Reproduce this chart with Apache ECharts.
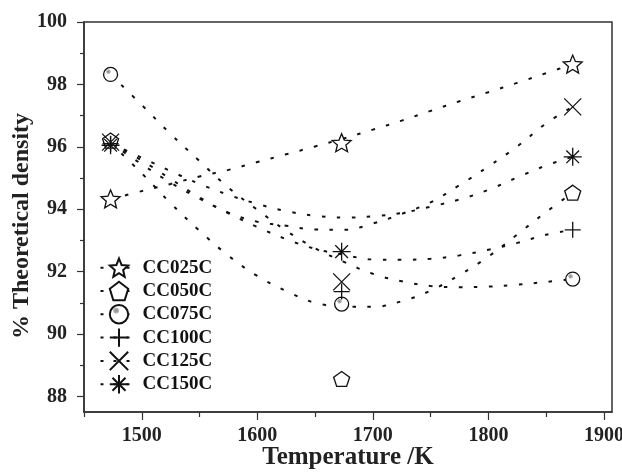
<!DOCTYPE html>
<html><head><meta charset="utf-8">
<script src="https://cdn.jsdelivr.net/npm/echarts@6/dist/echarts.min.js"></script>
<style>html,body{margin:0;padding:0;background:#fff}#c{width:622px;height:475px}</style>
</head><body><div id="c"></div>
<script>
// Measured points (sintering temperature in K, % theoretical density)
const temperatures = [1473, 1673, 1873];
const cc025c = [94.33, 96.13, 98.65];
const cc050c = [96.2, 88.56, 94.53];
const cc075c = [98.32, 90.96, 91.76];
const cc100c = [96.1, 91.36, 93.34];
const cc125c = [96.15, 91.67, 97.28];
const cc150c = [96.05, 92.64, 95.68];

// Dotted trend curves
const fitTemperatures = [1473, 1500, 1525, 1550, 1575, 1600, 1625, 1650, 1675, 1700, 1725, 1750, 1775, 1800, 1825, 1850, 1873];
const fit025c = [94.32, 94.58, 94.81, 95.05, 95.26, 95.51, 95.76, 96.01, 96.27, 96.55, 96.84, 97.15, 97.46, 97.75, 98.05, 98.36, 98.65];
const fit050c = [96.12, 95.15, 94.19, 93.31, 92.51, 91.86, 91.38, 91.00, 90.88, 90.87, 91.05, 91.39, 91.89, 92.48, 93.19, 93.91, 94.53];
const fit075c = [98.32, 97.34, 96.41, 95.54, 94.69, 93.98, 93.31, 92.75, 92.31, 91.93, 91.69, 91.54, 91.50, 91.52, 91.58, 91.67, 91.76];
const fit100c = [96.12, 95.44, 94.85, 94.34, 93.87, 93.43, 93.04, 92.73, 92.54, 92.39, 92.38, 92.41, 92.52, 92.70, 92.92, 93.18, 93.34];
const fit125c = [96.12, 95.56, 94.97, 94.38, 93.89, 93.60, 93.47, 93.35, 93.34, 93.54, 93.85, 94.22, 94.77, 95.37, 96.01, 96.75, 97.28];
const fit150c = [96.12, 95.65, 95.22, 94.81, 94.46, 94.17, 93.94, 93.79, 93.73, 93.77, 93.88, 94.08, 94.31, 94.62, 95.02, 95.40, 95.68];

const seriesNames = ['CC025C', 'CC050C', 'CC075C', 'CC100C', 'CC125C', 'CC150C'];
const xMajorTicks = [1500, 1600, 1700, 1800, 1900];
const xMinorTicks = [1450, 1550, 1650, 1750, 1850];
const yMajorTicks = [88, 90, 92, 94, 96, 98, 100];
const yMinorTicks = [89, 91, 93, 95, 97, 99];

const FONT = '"Liberation Serif", "Times New Roman", serif';
const INK = '#111';
const AXIS = '#333';

const symbols = {
  star: 'path://M10,0L12.645,6.36L19.511,6.91L14.28,11.39L15.878,18.09L10,14.5L4.122,18.09L5.72,11.39L0.489,6.91L7.355,6.36Z',
  pentagon: 'path://M10,0L19.511,6.91L15.878,18.09L4.122,18.09L0.489,6.91Z',
  plus: 'path://M0,10L20,10M10,0L10,20',
  cross: 'path://M0,0L20,20M20,0L0,20',
  asterisk: 'path://M10,0L10,20M0,10L20,10M2.93,2.93L17.07,17.07M17.07,2.93L2.93,17.07'
};
const circleFill = {
  type: 'radial', x: 0.36, y: 0.32, r: 0.5,
  colorStops: [
    { offset: 0, color: '#8a8a8a' },
    { offset: 0.25, color: '#b5b5b5' },
    { offset: 0.33, color: '#ffffff' },
    { offset: 1, color: '#ffffff' }
  ]
};

const markerDefs = [
  { values: cc025c, symbol: symbols.star, size: [19, 18], fill: '#fff' },
  { values: cc050c, symbol: symbols.pentagon, size: [16, 15], fill: '#fff' },
  { values: cc075c, symbol: 'circle', size: 14, fill: circleFill },
  { values: cc100c, symbol: symbols.plus, size: 16, fill: '#fff' },
  { values: cc125c, symbol: symbols.cross, size: 17, fill: '#fff' },
  { values: cc150c, symbol: symbols.asterisk, size: 18, fill: '#fff' }
];
const fits = [fit025c, fit050c, fit075c, fit100c, fit125c, fit150c];

const series = [];
fits.forEach((f, i) => {
  series.push({
    name: seriesNames[i] + ' trend',
    type: 'line',
    data: fitTemperatures.map((t, k) => [t, f[k]]),
    smooth: 0.4,
    symbol: 'none',
    silent: true,
    z: 2,
    lineStyle: { color: INK, width: 2, type: [3.5, 11.5] }
  });
});
markerDefs.forEach((m, i) => {
  series.push({
    name: seriesNames[i],
    type: 'line',
    data: temperatures.map((t, k) => [t, m.values[k]]),
    symbol: m.symbol,
    symbolSize: m.size,
    showSymbol: true,
    z: 5,
    lineStyle: { opacity: 0, width: 0 },
    itemStyle: { color: m.fill, borderColor: INK, borderWidth: 1.3 }
  });
});

const plain = v => String(v);
const labelStyle = { fontFamily: FONT, fontWeight: 'bold', fontSize: 20, color: '#222', formatter: plain };
const nameStyle = { fontFamily: FONT, fontWeight: 'bold', color: '#222' };

const chart = echarts.init(document.getElementById('c'), null, { renderer: 'canvas' });
chart.setOption({
  animation: false,
  backgroundColor: '#fff',
  grid: {
    left: 84, right: 10, top: 22, bottom: 63, containLabel: false, outerBoundsMode: 'none',
    show: true, borderColor: AXIS, borderWidth: 1.5, backgroundColor: 'transparent'
  },
  legend: {
    data: seriesNames,
    orient: 'vertical',
    left: 99.5,
    top: 257.5,
    padding: 0,
    itemWidth: 37,
    itemHeight: 23,
    itemGap: 2.9,
    textStyle: { fontFamily: FONT, fontWeight: 'bold', fontSize: 19, color: INK },
    lineStyle: { color: INK, width: 2, type: [3, 10], opacity: 1 }
  },
  xAxis: [{
    type: 'value', min: 1450, max: 1907, position: 'bottom',
    name: 'Temperature /K', nameLocation: 'middle', nameGap: 33, nameMoveOverlap: false,
    nameTextStyle: Object.assign({ fontSize: 25 }, nameStyle),
    axisLine: { show: true, onZero: false, lineStyle: { color: AXIS, width: 1.5 } },
    axisTick: { show: true, customValues: xMajorTicks, length: 8, lineStyle: { color: AXIS, width: 1.2 } },
    axisLabel: Object.assign({ customValues: xMajorTicks, margin: 14 }, labelStyle),
    splitLine: { show: false }
  }, {
    type: 'value', min: 1450, max: 1907, position: 'bottom',
    axisLine: { show: false, onZero: false },
    axisTick: { show: true, customValues: xMinorTicks, length: 5, lineStyle: { color: AXIS, width: 1.2 } },
    axisLabel: { show: false },
    splitLine: { show: false }
  }],
  yAxis: [{
    type: 'value', min: 87.5, max: 100, position: 'left',
    name: '% Theoretical density', nameLocation: 'middle', nameGap: 50, nameRotate: 90, nameMoveOverlap: false,
    nameTextStyle: Object.assign({ fontSize: 24, padding: [0, 18, 0, 0] }, nameStyle),
    axisLine: { show: true, onZero: false, lineStyle: { color: AXIS, width: 1.5 } },
    axisTick: { show: true, customValues: yMajorTicks, length: 7, lineStyle: { color: AXIS, width: 1.2 } },
    axisLabel: Object.assign({ customValues: yMajorTicks, margin: 17 }, labelStyle),
    splitLine: { show: false }
  }, {
    type: 'value', min: 87.5, max: 100, position: 'left',
    axisLine: { show: false, onZero: false },
    axisTick: { show: true, customValues: yMinorTicks, length: 4, lineStyle: { color: AXIS, width: 1.2 } },
    axisLabel: { show: false },
    splitLine: { show: false }
  }],
  series: series
});
</script></body></html>
